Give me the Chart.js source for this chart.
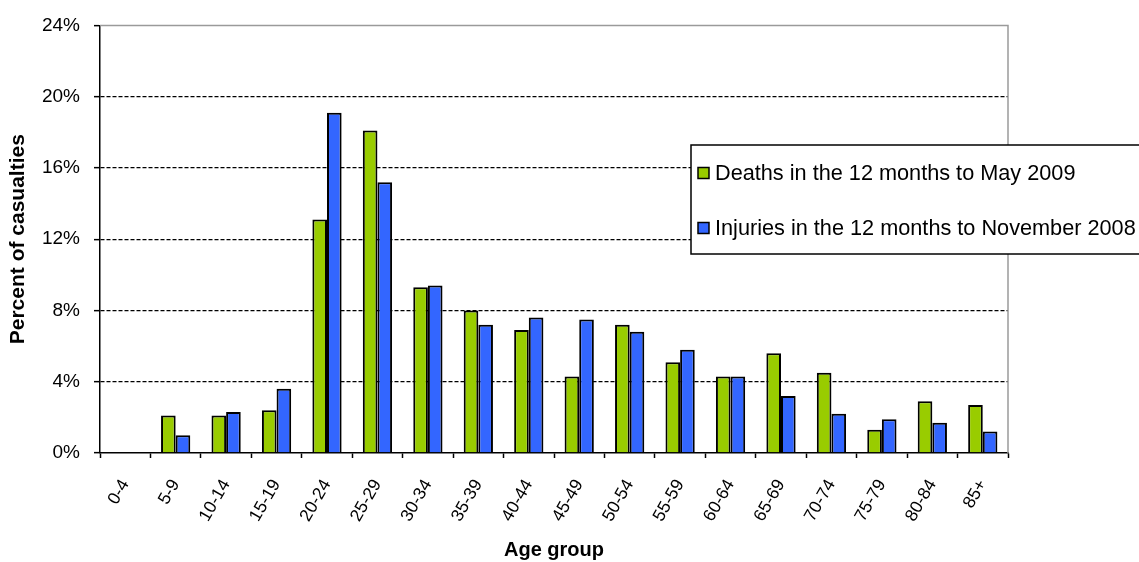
<!DOCTYPE html>
<html>
<head>
<meta charset="utf-8">
<script src="https://cdn.jsdelivr.net/npm/chart.js@4.4.1/dist/chart.umd.min.js"></script>
<style>
  html, body { margin: 0; padding: 0; background: #fff; }
  #wrap { width: 1139px; height: 562px; position: relative; }
</style>
</head>
<body>
<div id="wrap"><canvas id="c"></canvas></div>
<script>
const categories = ['0-4','5-9','10-14','15-19','20-24','25-29','30-34','35-39','40-44','45-49','50-54','55-59','60-64','65-69','70-74','75-79','80-84','85+'];
const deaths   = [0, 2.1, 2.1, 2.4, 13.1, 18.1, 9.3, 8.0, 6.9, 4.3, 7.2, 5.1, 4.3, 5.6, 4.5, 1.3, 2.9, 2.7];
const injuries = [0, 1.0, 2.3, 3.6, 19.1, 15.2, 9.4, 7.2, 7.6, 7.5, 6.8, 5.8, 4.3, 3.2, 2.2, 1.9, 1.7, 1.2];
const seriesLabels = ['Deaths in the 12 months to May 2009', 'Injuries in the 12 months to November 2008'];
const seriesColors = ['#99CC00', '#3366FF'];
const yMin = 0, yMax = 24, yStep = 4;
const xTitle = 'Age group';
const yTitle = 'Percent of casualties';

const FONT = "'Liberation Sans', Arial, sans-serif";

const framePlugin = {
  id: 'frameAndLegend',
  afterDraw(chart) {
    const ctx = chart.ctx;
    const a = chart.chartArea;
    ctx.save();
    // grey top and right plot border
    ctx.strokeStyle = '#9a9a9a';
    ctx.lineWidth = 1.5;
    ctx.beginPath();
    ctx.moveTo(a.left, a.top);
    ctx.lineTo(a.right, a.top);
    ctx.lineTo(a.right, a.bottom);
    ctx.stroke();
    // legend box
    const bx = 691, by = 145, bw = 520, bh = 109;
    ctx.fillStyle = '#fff';
    ctx.fillRect(bx, by, bw, bh);
    ctx.strokeStyle = '#000';
    ctx.lineWidth = 1.5;
    ctx.strokeRect(bx, by, bw, bh);
    const rows = [173, 228];
    chart.data.datasets.forEach((ds, i) => {
      const cy = rows[i];
      ctx.fillStyle = ds.backgroundColor;
      ctx.fillRect(698, cy - 5.5, 11, 11);
      ctx.strokeStyle = '#000';
      ctx.lineWidth = 1.5;
      ctx.strokeRect(698, cy - 5.5, 11, 11);
      ctx.fillStyle = '#000';
      ctx.font = "21.7px " + FONT;
      ctx.textAlign = 'left';
      ctx.textBaseline = 'middle';
      ctx.fillText(ds.label, 715, cy + 1);
    });
    ctx.restore();
  }
};

new Chart(document.getElementById('c'), {
  type: 'bar',
  data: {
    labels: categories,
    datasets: [
      { label: seriesLabels[0], data: deaths, backgroundColor: seriesColors[0], borderColor: '#000', borderWidth: 2 },
      { label: seriesLabels[1], data: injuries, backgroundColor: seriesColors[1], borderColor: '#000', borderWidth: 2 }
    ]
  },
  options: {
    responsive: true,
    maintainAspectRatio: false,
    animation: false,
    devicePixelRatio: 1,
    layout: { padding: { top: 18, right: 131, bottom: 0, left: 0 } },
    datasets: { bar: { categoryPercentage: 0.58, barPercentage: 1.0 } },
    plugins: {
      legend: { display: false },
      tooltip: { enabled: false },
      title: { display: false }
    },
    scales: {
      x: {
        offset: true,
        grid: {
          offset: true,
          drawOnChartArea: false,
          drawTicks: true,
          tickLength: 5,
          tickColor: '#000',
          tickWidth: 1.5
        },
        border: { display: true, color: '#000', width: 1.5 },
        ticks: {
          color: '#000',
          font: { family: FONT, size: 17.5 },
          maxRotation: 60,
          minRotation: 60,
          padding: 18,
          autoSkip: false
        },
        title: {
          display: true,
          text: xTitle,
          color: '#000',
          font: { family: FONT, size: 20, weight: 'bold' },
          padding: { top: 0, bottom: 0 }
        },
        afterFit(scale) { scale.height = 109; }
      },
      y: {
        min: yMin,
        max: yMax,
        grid: {
          color: (c) => (c.tick && (c.tick.value === yMin || c.tick.value === yMax)) ? 'rgba(0,0,0,0)' : '#000',
          lineWidth: 1.3,
          drawTicks: true,
          tickLength: 6,
          tickColor: '#000',
          tickWidth: 1.5,
          tickBorderDash: []
        },
        border: { display: true, color: '#000', width: 1.5, dash: [4, 2] },
        ticks: {
          stepSize: yStep,
          color: '#000',
          font: { family: FONT, size: 19 },
          padding: 14,
          callback: (v) => v + '%'
        },
        title: {
          display: true,
          text: yTitle,
          color: '#000',
          font: { family: FONT, size: 21, weight: 'bold' },
          padding: { top: 6, bottom: 0 }
        },
        afterFit(scale) { scale.width = 100; }
      }
    }
  },
  plugins: [framePlugin]
});
</script>
</body>
</html>
